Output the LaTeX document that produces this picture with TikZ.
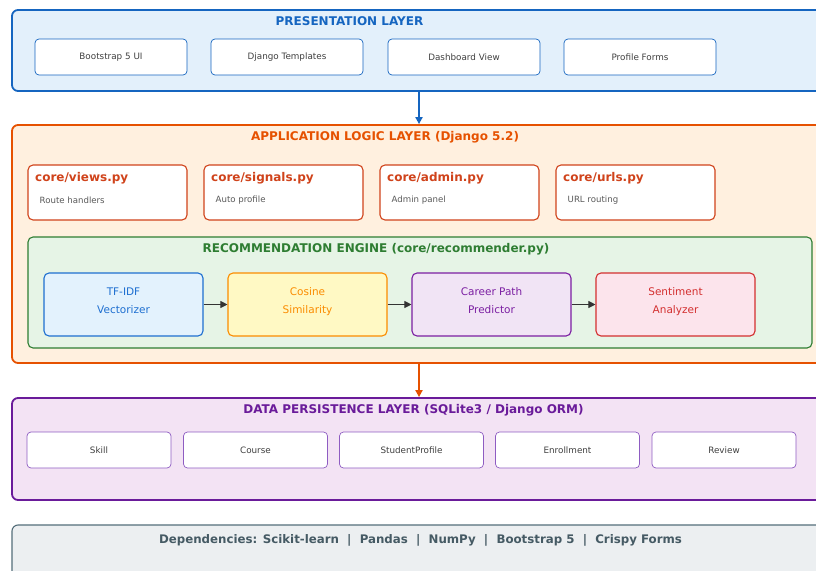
\documentclass[tikz,border=0pt]{standalone}
\usepackage{fontspec}
\setmainfont{DejaVu Sans}
\usetikzlibrary{arrows.meta}
\definecolor{pblue}{HTML}{1565C0}
\definecolor{pfill}{HTML}{E3F0FB}
\definecolor{aorange}{HTML}{E65100}
\definecolor{afill}{HTML}{FFF0DF}
\definecolor{ared}{HTML}{D0431B}
\definecolor{egreen}{HTML}{2E7D32}
\definecolor{efill}{HTML}{E6F4E6}
\definecolor{dpurple}{HTML}{6A1B9A}
\definecolor{dfill}{HTML}{F3E3F4}
\definecolor{dlight}{HTML}{8E5CC2}
\definecolor{gborder}{HTML}{546E7A}
\definecolor{gfill}{HTML}{ECEFF1}
\definecolor{gtext}{HTML}{455A64}
\definecolor{tfill}{HTML}{E3F2FD}
\definecolor{tblue}{HTML}{1E6FD0}
\definecolor{cfill}{HTML}{FFF9C4}
\definecolor{corange}{HTML}{FB8C00}
\definecolor{kfill}{HTML}{F1E4F5}
\definecolor{kpurple}{HTML}{7B1FA2}
\definecolor{sfill}{HTML}{FCE4EC}
\definecolor{sred}{HTML}{D32F2F}
\definecolor{arrowgray}{HTML}{333333}
\begin{document}
\begin{tikzpicture}[x=1pt,y=-1pt,
  layer/.style={line width=1.8pt, rounded corners=6pt, inner sep=0pt},
  ltitle/.style={font=\bfseries\fontsize{12}{14}\selectfont, inner sep=0pt},
  pbox/.style={draw=pblue, line width=0.7pt, fill=white, rounded corners=4pt, minimum width=152pt, minimum height=36pt, inner sep=0pt, font=\fontsize{8.8}{10}\selectfont, text=black!75},
  abox/.style={draw=ared, line width=1.1pt, fill=white, rounded corners=5pt, minimum width=159pt, minimum height=55pt, inner sep=0pt},
  atitle/.style={font=\bfseries\fontsize{12}{14}\selectfont, text=ared, anchor=west, inner sep=0pt},
  asub/.style={font=\fontsize{8.6}{10}\selectfont, text=black!65, anchor=west, inner sep=0pt},
  ebox/.style={line width=1.1pt, rounded corners=5pt, minimum width=159pt, minimum height=63pt, inner sep=0pt},
  etext/.style={inner sep=0pt, align=center, anchor=base, font=\fontsize{10.5}{18}\selectfont},
  dbox/.style={draw=dlight, line width=0.7pt, fill=white, rounded corners=4pt, minimum width=144pt, minimum height=36pt, inner sep=0pt, font=\fontsize{8.8}{10}\selectfont, text=black!75},
  earrow/.style={draw=arrowgray, line width=1pt, -{Triangle[length=7pt,width=7pt]}},
  larrow/.style={line width=1.8pt, -{Triangle[length=7pt,width=7pt]}}
]
\useasboundingbox (0,0) rectangle (816,570);
\clip (0,0) rectangle (816,570);
\fill[white] (0,0) rectangle (816,570);

% Presentation layer
\node[layer, draw=pblue, fill=pfill, minimum width=818pt, minimum height=81pt] (pres) at (421,50.5) {};
\node[ltitle, text=pblue] (prest) at (349.5,21) {PRESENTATION LAYER};
\node[pbox] (p1) at (111,57) {Bootstrap 5 UI};
\node[pbox] (p2) at (287,57) {Django Templates};
\node[pbox] (p3) at (464,57) {Dashboard View};
\node[pbox] (p4) at (640,57) {Profile Forms};

% Application layer
\node[layer, draw=aorange, fill=afill, minimum width=818pt, minimum height=238pt] (app) at (421,244) {};
\node[ltitle, text=aorange] (appt) at (385,137.5) {APPLICATION LOGIC LAYER (Django 5.2)};
\node[abox] (a1) at (107.5,192.5) {};
\node[abox] (a2) at (283.5,192.5) {};
\node[abox] (a3) at (459.5,192.5) {};
\node[abox] (a4) at (635.5,192.5) {};
\node[atitle] (a1t) at (35,178) {core/views.py};
\node[asub] (a1s) at (39.5,200.5) {Route handlers};
\node[atitle] (a2t) at (211,178) {core/signals.py};
\node[asub] (a2s) at (215.5,200.5) {Auto profile};
\node[atitle] (a3t) at (387,178) {core/admin.py};
\node[asub] (a3s) at (391.5,200.5) {Admin panel};
\node[atitle] (a4t) at (563,178) {core/urls.py};
\node[asub] (a4s) at (567.5,200.5) {URL routing};

% Recommendation engine
\node[draw=egreen, fill=efill, line width=1.1pt, rounded corners=5pt, minimum width=784pt, minimum height=111pt, inner sep=0pt] (eng) at (420,292.5) {};
\node[ltitle, text=egreen] (engt) at (376,249.5) {RECOMMENDATION ENGINE (core/recommender.py)};
\node[ebox, draw=tblue, fill=tfill] (e1) at (123.5,304.5) {};
\node[ebox, draw=corange, fill=cfill] (e2) at (307.5,304.5) {};
\node[ebox, draw=kpurple, fill=kfill] (e3) at (491.5,304.5) {};
\node[ebox, draw=sred, fill=sfill] (e4) at (675.5,304.5) {};
\node[etext, text=tblue] (e1t) at (123.5,313) {TF-IDF\\Vectorizer};
\node[etext, text=corange] (e2t) at (307.5,313) {Cosine\\Similarity};
\node[etext, text=kpurple] (e3t) at (491.5,313) {Career Path\\Predictor};
\node[etext, text=sred] (e4t) at (675.5,313) {Sentiment\\Analyzer};
\draw[earrow] (e1) -- (e2);
\draw[earrow] (e2) -- (e3);
\draw[earrow] (e3) -- (e4);

% Data persistence layer
\node[layer, draw=dpurple, fill=dfill, minimum width=818pt, minimum height=102pt] (data) at (421,449) {};
\node[ltitle, text=dpurple] (datat) at (413.5,410) {DATA PERSISTENCE LAYER (SQLite3 / Django ORM)};
\node[dbox] (d1) at (99,450) {Skill};
\node[dbox] (d2) at (255.5,450) {Course};
\node[dbox] (d3) at (411.5,450) {StudentProfile};
\node[dbox] (d4) at (567.5,450) {Enrollment};
\node[dbox] (d5) at (724,450) {Review};

% Dependencies
\node[draw=gborder, fill=gfill, line width=1.1pt, rounded corners=6pt, minimum width=818pt, minimum height=70pt, inner sep=0pt] (deps) at (421,560) {};
\node[font=\bfseries\fontsize{11.8}{14}\selectfont, text=gtext, inner sep=0pt] (depst) at (420.5,540) {Dependencies: Scikit-learn \ |\ \ Pandas \ |\ \ NumPy \ |\ \ Bootstrap 5 \ |\ \ Crispy Forms};

% Layer arrows
\draw[larrow, draw=pblue, fill=pblue] (pres.south -| 419,0) -- (app.north -| 419,0);
\draw[larrow, draw=aorange, fill=aorange] (app.south -| 419,0) -- (data.north -| 419,0);
\end{tikzpicture}
\end{document}
